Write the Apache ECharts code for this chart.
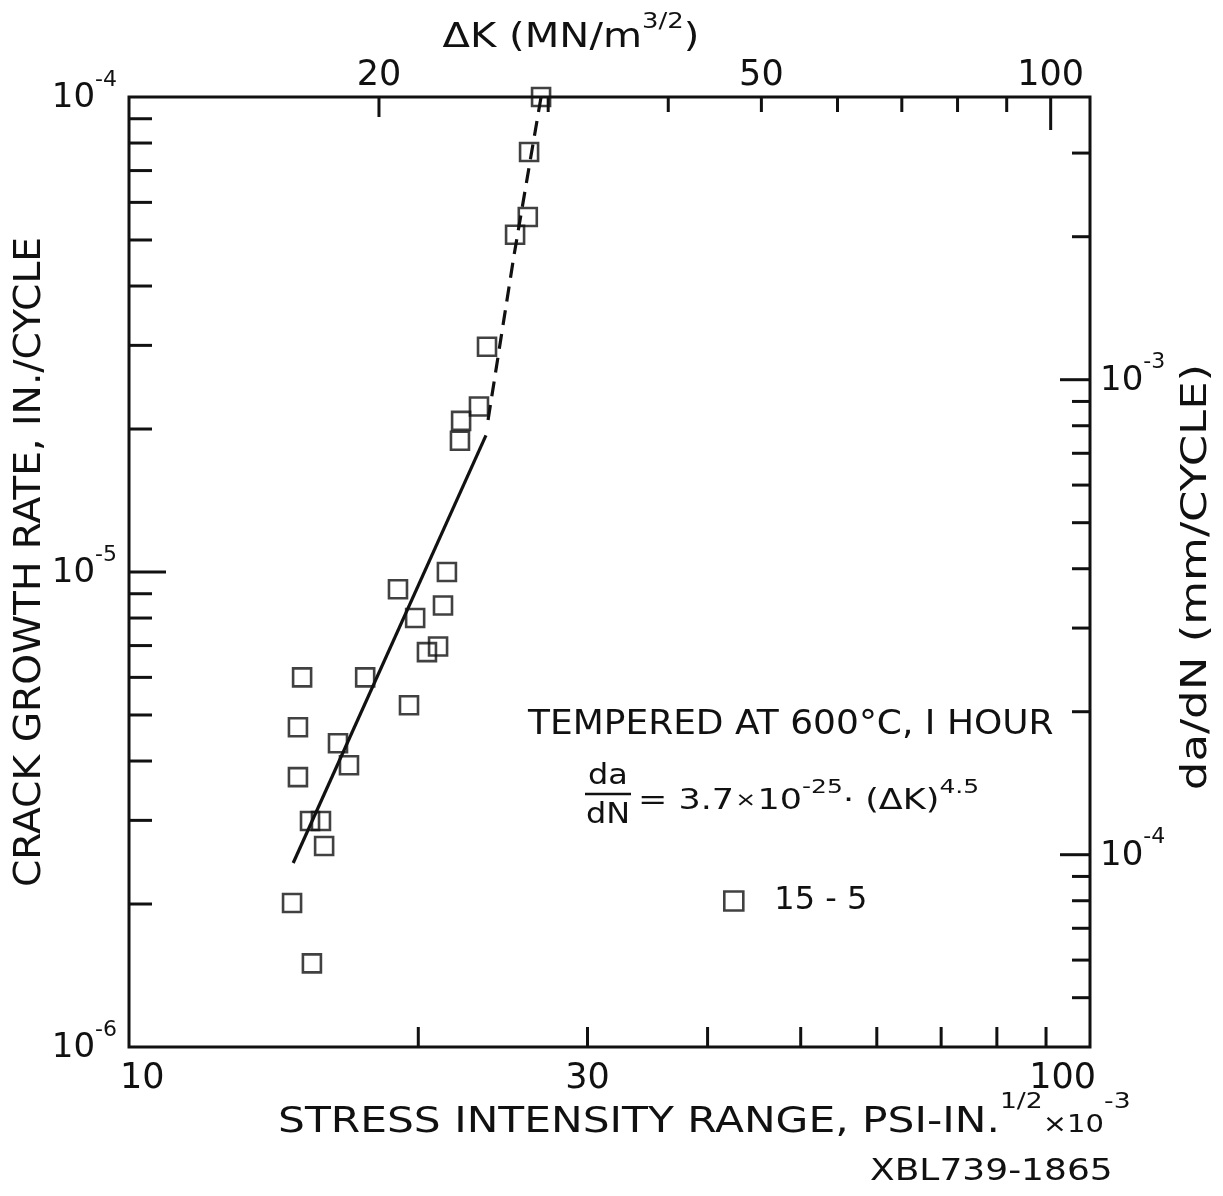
<!DOCTYPE html>
<html><head><meta charset="utf-8">
<script src="https://cdn.jsdelivr.net/npm/echarts@6/dist/echarts.min.js"></script>
<style>html,body{margin:0;padding:0;background:#fff}#c{width:1223px;height:1196px}</style>
</head><body><div id="c"></div>
<script>
// ---------------- data ----------------
// stress intensity range (ksi·in^1/2) and crack growth rate (in./cycle), specimen 15-5
const dK = [26.84, 26.08, 26.0, 25.22, 23.58, 23.13, 22.16, 22.1, 21.42, 21.22, 19.05, 19.85, 20.97,
            20.42, 17.61, 15.14, 19.56, 14.99, 16.5, 16.94, 14.99, 15.43, 15.84, 15.96, 14.78, 15.5];
const dadN = [1.0e-4, 7.66e-5, 5.59e-5, 5.13e-5, 2.98e-5, 2.23e-5, 2.08e-5, 1.89e-5, 1.0e-5, 8.5e-6,
              9.2e-6, 8.0e-6, 6.97e-6, 6.78e-6, 6.0e-6, 6.0e-6, 5.24e-6, 4.71e-6, 4.36e-6, 3.92e-6,
              3.70e-6, 2.99e-6, 2.99e-6, 2.65e-6, 2.01e-6, 1.50e-6];
const fitSolidK = [14.82, 23.52];
const fitSolidRate = [2.44e-6, 1.94e-5];
const fitDashK = [23.64, 25.16, 26.84];
const fitDashRate = [2.09e-5, 4.65e-5, 1.0e-4];

// axes
const X_MIN = 10, X_MAX = 100, Y_MIN = 1e-6, Y_MAX = 1e-4;
const bottomTicks = [20, 30, 40, 50, 60, 70, 80, 90];
const bottomLabels = [10, 30, 100];
const topTicksMPa = [20, 30, 40, 50, 60, 70, 80, 90, 100];
const topLabelsMPa = [20, 50, 100];
const leftMinorTicks = [2e-6, 3e-6, 4e-6, 5e-6, 6e-6, 7e-6, 8e-6, 9e-6, 2e-5, 3e-5, 4e-5, 5e-5, 6e-5, 7e-5, 8e-5, 9e-5];
const leftLabels = [1e-4, 1e-5, 1e-6];
const rightTicksMm = [5e-5, 6e-5, 7e-5, 8e-5, 9e-5, 1e-4, 2e-4, 3e-4, 4e-4, 5e-4, 6e-4, 7e-4, 8e-4, 9e-4, 1e-3, 2e-3, 3e-3];
const rightLabelsMm = [1e-3, 1e-4];
const KSI_PER_MPA = 1 / 1.0988;     // MN/m^3/2 -> ksi·in^1/2
const IN_PER_MM_SCALE = 0.0254;     // placement of the mm/cycle scale as drawn in the original

// ---------------- style ----------------
const INK = '#111';
const FONT = '"DejaVu Sans", sans-serif';

function expText(v) {
  const e = Math.round(Math.log10(v));
  return '{b|10}{s|' + (e < 0 ? '-' : '') + Math.abs(e) + '}';
}
const expRich = {
  b: { fontSize: 34, fontFamily: FONT, fill: INK, padding: [12, 0, 0, 0], verticalAlign: 'bottom' },
  s: { fontSize: 22, fontFamily: FONT, fill: INK, verticalAlign: 'top' }
};

function tickSeries(values, side, lenOf) {
  const isX = side === 'bottom' || side === 'top';
  return {
    type: 'custom', silent: true, clip: false, z: 5,
    data: values.map(v => isX ? [v, side === 'bottom' ? Y_MIN : Y_MAX] : [side === 'left' ? X_MIN : X_MAX, v]),
    renderItem: function (params, api) {
      const x = api.value(0), y = api.value(1);
      const p = api.coord([x, y]);
      const L = lenOf(isX ? x : y);
      let x2 = p[0], y2 = p[1];
      if (side === 'bottom') y2 -= L;
      else if (side === 'top') y2 += L;
      else if (side === 'left') x2 += L;
      else x2 -= L;
      return { type: 'line', shape: { x1: p[0], y1: p[1], x2: x2, y2: y2 },
               style: { stroke: INK, lineWidth: 3 } };
    }
  };
}

function labelSeries(values, side, textOf, rich, fontSize) {
  const isX = side === 'bottom' || side === 'top';
  return {
    type: 'custom', silent: true, clip: false, z: 5,
    data: values.map(v => isX ? [v, side === 'bottom' ? Y_MIN : Y_MAX] : [side === 'left' ? X_MIN : X_MAX, v]),
    renderItem: function (params, api) {
      const x = api.value(0), y = api.value(1);
      const p = api.coord([x, y]);
      let tx = p[0], ty = p[1], align = 'center', va = 'middle';
      const v = isX ? x : y;
      if (side === 'bottom') {
        ty += 32;
        if (params.dataIndex === 0) { align = 'left'; tx -= 9; }
        if (params.dataIndex === values.length - 1) { align = 'right'; tx += 6; }
      } else if (side === 'top') { ty -= 21; }
      else if (side === 'left') { tx -= 12; ty -= 5; align = 'right'; }
      else { tx += 10; ty -= 5; align = 'left'; }
      return { type: 'text', x: tx, y: ty,
               style: { text: textOf(v), rich: rich, fontSize: fontSize, fontFamily: FONT, fill: INK,
                        align: align, verticalAlign: va } };
    }
  };
}

const chart = echarts.init(document.getElementById('c'), null, { renderer: 'canvas' });

const option = {
  animation: false,
  backgroundColor: '#fff',
  grid: { left: 129, top: 97, width: 961, height: 950, show: true, borderColor: INK, borderWidth: 3,
          backgroundColor: 'rgba(0,0,0,0)' },
  xAxis: { type: 'log', logBase: 10, min: X_MIN, max: X_MAX,
           axisLine: { show: false }, axisTick: { show: false }, axisLabel: { show: false }, splitLine: { show: false } },
  yAxis: { type: 'log', logBase: 10, min: Y_MIN, max: Y_MAX,
           axisLine: { show: false }, axisTick: { show: false }, axisLabel: { show: false }, splitLine: { show: false } },
  legend: {
    data: ['15 - 5'], left: 718, top: 880, itemWidth: 19, itemHeight: 19, selectedMode: false,
    itemStyle: { color: 'rgba(0,0,0,0)', borderColor: INK, borderWidth: 2.6 },
    textStyle: { fontFamily: FONT, fontSize: 32, color: INK, padding: [0, 0, 0, 26] }
  },
  series: [
    { name: '15 - 5', type: 'scatter', clip: false, symbol: 'rect', symbolSize: 18, z: 10,
      itemStyle: { color: 'rgba(0,0,0,0)', borderColor: INK, borderWidth: 2.6 },
      data: dK.map((k, i) => [k, dadN[i]]) },
    { type: 'line', showSymbol: false, symbol: 'none', silent: true, z: 8,
      lineStyle: { color: INK, width: 3.2 },
      data: fitSolidK.map((k, i) => [k, fitSolidRate[i]]) },
    { type: 'line', showSymbol: false, symbol: 'none', silent: true, z: 8,
      lineStyle: { color: INK, width: 3.2, type: [15, 9] },
      data: fitDashK.map((k, i) => [k, fitDashRate[i]]) },
    tickSeries(bottomTicks, 'bottom', () => 20),
    tickSeries(topTicksMPa.map(v => v * KSI_PER_MPA), 'top', v => {
      const m = Math.round(v / KSI_PER_MPA);
      return m === 100 ? 33 : m === 20 ? 20 : 15;
    }),
    tickSeries(leftMinorTicks, 'left', () => 23),
    tickSeries([1e-5], 'left', () => 37),
    tickSeries(rightTicksMm.map(v => v * IN_PER_MM_SCALE), 'right', v => {
      const m = v / IN_PER_MM_SCALE;
      const e = Math.log10(m);
      return Math.abs(e - Math.round(e)) < 1e-6 ? 30 : 18;
    }),
    labelSeries(bottomLabels, 'bottom', v => String(v), null, 35),
    labelSeries(topLabelsMPa.map(v => v * KSI_PER_MPA), 'top', v => String(Math.round(v / KSI_PER_MPA)), null, 35),
    labelSeries(leftLabels, 'left', v => expText(v), expRich, 34),
    labelSeries(rightLabelsMm.map(v => v * IN_PER_MM_SCALE), 'right', v => expText(v / IN_PER_MM_SCALE), expRich, 34)
  ],
  graphic: [
    { type: 'text', x: 571, y: 33, scaleX: 1.18, style: {
        text: '{b|ΔK (MN/m}{s|3/2}{b|)}', align: 'center', verticalAlign: 'middle',
        rich: { b: { fontSize: 34, fontFamily: FONT, fill: INK, padding: [10, 0, 0, 0], verticalAlign: 'bottom' },
                s: { fontSize: 22, fontFamily: FONT, fill: INK, verticalAlign: 'top' } } } },
    { type: 'text', x: 30, y: 562, rotation: Math.PI / 2, scaleX: 1.06, style: {
        text: 'CRACK GROWTH RATE, IN./CYCLE', fontSize: 37, fontFamily: FONT, fill: INK,
        align: 'center', verticalAlign: 'middle' } },
    { type: 'text', x: 1197, y: 577, rotation: Math.PI / 2, scaleX: 1.25, style: {
        text: 'da/dN (mm/CYCLE)', fontSize: 36, fontFamily: FONT, fill: INK,
        align: 'center', verticalAlign: 'middle' } },
    { type: 'text', x: 278, y: 1116, scaleX: 1.21, style: {
        text: '{b|STRESS INTENSITY RANGE, PSI-IN.}{s|1/2}{x|×10}{s|-3}', align: 'left', verticalAlign: 'middle',
        rich: { b: { fontSize: 35, fontFamily: FONT, fill: INK, padding: [14, 0, 0, 0], verticalAlign: 'bottom' },
                s: { fontSize: 22, fontFamily: FONT, fill: INK, verticalAlign: 'top' },
                x: { fontSize: 24, fontFamily: FONT, fill: INK, padding: [0, 0, 3, 0], verticalAlign: 'bottom' } } } },
    { type: 'text', x: 870, y: 1172, scaleX: 1.2, style: {
        text: 'XBL739-1865', fontSize: 30, fontFamily: FONT, fill: INK, align: 'left', verticalAlign: 'middle' } },
    { type: 'text', x: 528, y: 725, scaleX: 1.09, style: {
        text: 'TEMPERED AT 600°C, I HOUR', fontSize: 33, fontFamily: FONT, fill: INK, align: 'left', verticalAlign: 'middle' } },
    { type: 'text', x: 608, y: 776, scaleX: 1.1, style: {
        text: 'da', fontSize: 29, fontFamily: FONT, fill: INK, align: 'center', verticalAlign: 'middle' } },
    { type: 'line', shape: { x1: 585, y1: 794, x2: 631, y2: 794 }, style: { stroke: INK, lineWidth: 2.5 } },
    { type: 'text', x: 608, y: 815, scaleX: 1.1, style: {
        text: 'dN', fontSize: 29, fontFamily: FONT, fill: INK, align: 'center', verticalAlign: 'middle' } },
    { type: 'text', x: 638, y: 797, scaleX: 1.25, style: {
        text: '{b|= 3.7}{x|×}{b|10}{s|-25}{b|· (ΔK)}{s|4.5}', align: 'left', verticalAlign: 'middle',
        rich: { b: { fontSize: 28, fontFamily: FONT, fill: INK, padding: [10, 0, 0, 0], verticalAlign: 'bottom' },
                s: { fontSize: 20, fontFamily: FONT, fill: INK, verticalAlign: 'top' },
                x: { fontSize: 20, fontFamily: FONT, fill: INK, padding: [0, 1, 5, 1], verticalAlign: 'bottom' } } } }
  ]
};
chart.setOption(option);
</script>
</body></html>
